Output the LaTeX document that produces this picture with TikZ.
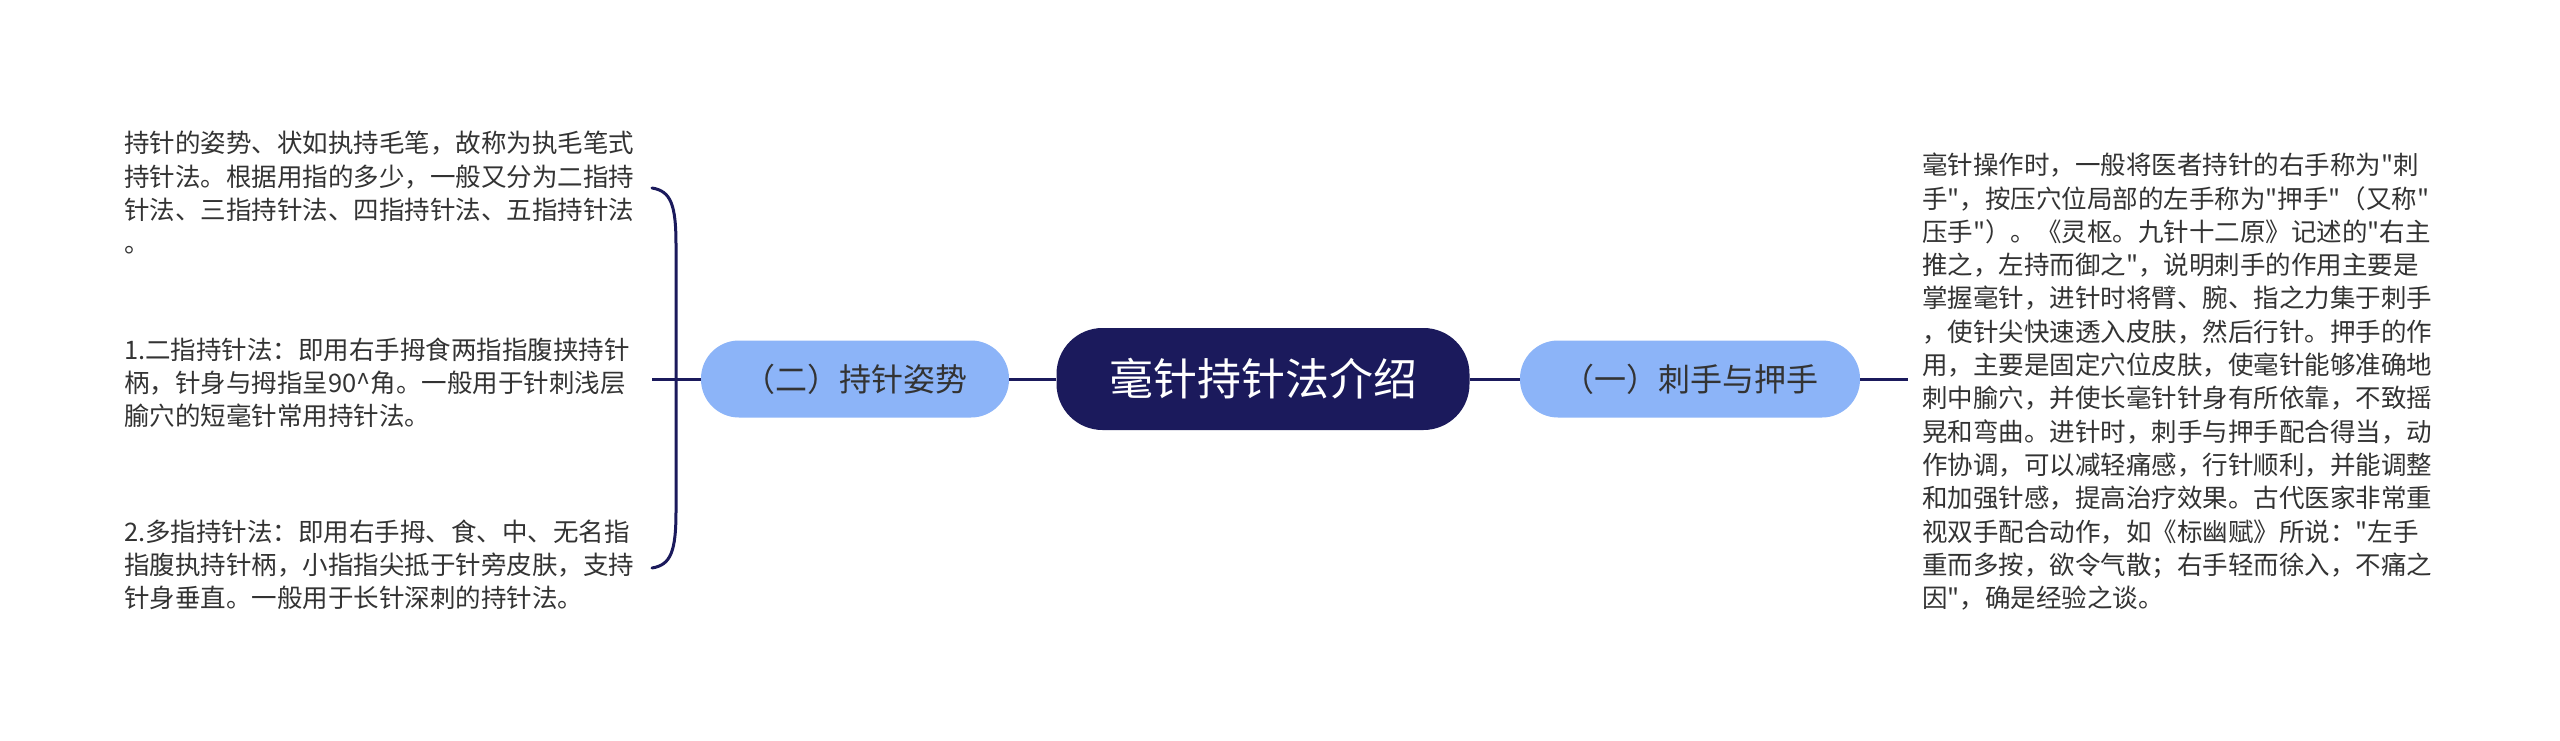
\documentclass[tikz,border=0pt]{standalone}
\usepackage{fontspec}
\setmainfont{Noto Sans CJK SC}[Ligatures=TeXOff]
\definecolor{navy}{RGB}{27,26,92}
\definecolor{lblue}{RGB}{140,180,248}
\definecolor{txt}{RGB}{51,51,51}
\begin{document}
\begin{tikzpicture}[x=1pt,y=-1pt,
  conn/.style={draw=navy,line width=3pt},
  root/.style={fill=navy,text=white,rounded corners=46pt,minimum width=413pt,minimum height=102pt,inner sep=0pt,font=\fontsize{44}{52}\selectfont},
  sub/.style={fill=lblue,text=txt,rounded corners=38pt,minimum height=77pt,inner xsep=42pt,inner ysep=0pt,font=\fontsize{32}{38}\selectfont},
  leaf/.style={text=txt,align=left,inner sep=0pt,anchor=west,font=\fontsize{25.5}{33.3}\selectfont}]
\fill[white] (0,0) rectangle (2560,741);
\useasboundingbox (0,0) rectangle (2560,741);

\node[root] (root) at (1263,379) {毫针持针法介绍};
\node[sub] (l) at (855,379) {（二）持针姿势};
\node[sub] (r) at (1690,379) {（一）刺手与押手};

\node[leaf,inner xsep=14pt] (rt) at (1908,384.5) {\strut 毫针操作时，一般将医者持针的右手称为"刺\\
\strut 手"，按压穴位局部的左手称为"押手"（又称"\\
\strut 压手"）。《灵枢。九针十二原》记述的"右主\\
\strut 推之，左持而御之"，说明刺手的作用主要是\\
\strut 掌握毫针，进针时将臂、腕、指之力集于刺手\\
\strut ，使针尖快速透入皮肤，然后行针。押手的作\\
\strut 用，主要是固定穴位皮肤，使毫针能够准确地\\
\strut 刺中腧穴，并使长毫针针身有所依靠，不致摇\\
\strut 晃和弯曲。进针时，刺手与押手配合得当，动\\
\strut 作协调，可以减轻痛感，行针顺利，并能调整\\
\strut 和加强针感，提高治疗效果。古代医家非常重\\
\strut 视双手配合动作，如《标幽赋》所说："左手\\
\strut 重而多按，欲令气散；右手轻而徐入，不痛之\\
\strut 因"，确是经验之谈。};

\node[leaf] (a) at (124,196) {\strut 持针的姿势、状如执持毛笔，故称为执毛笔式\\
\strut 持针法。根据用指的多少，一般又分为二指持\\
\strut 针法、三指持针法、四指持针法、五指持针法\\
\strut 。};
\node[leaf] (b) at (124,386) {\strut 1.二指持针法：即用右手拇食两指指腹挟持针\\
\strut 柄，针身与拇指呈90\textasciicircum 角。一般用于针刺浅层\\
\strut 腧穴的短毫针常用持针法。};
\node[leaf] (c) at (124,568) {\strut 2.多指持针法：即用右手拇、食、中、无名指\\
\strut 指腹执持针柄，小指指尖抵于针旁皮肤，支持\\
\strut 针身垂直。一般用于长针深刺的持针法。};

\coordinate (btop) at (652,188);
\coordinate (bbot) at (652,568);
\coordinate (tick) at (652,379);

\draw[conn] (root.west) -- (l.east);
\draw[conn] (root.east) -- (r.west);
\draw[conn] (r.east) -- (r.east -| rt.west);
\draw[conn] (tick) -- (l.west);
\draw[conn,line cap=round] (btop) .. controls (671,191) and (676,205) .. (676,245) -- (676,511) .. controls (676,551) and (671,565) .. (bbot);
\end{tikzpicture}
\end{document}
